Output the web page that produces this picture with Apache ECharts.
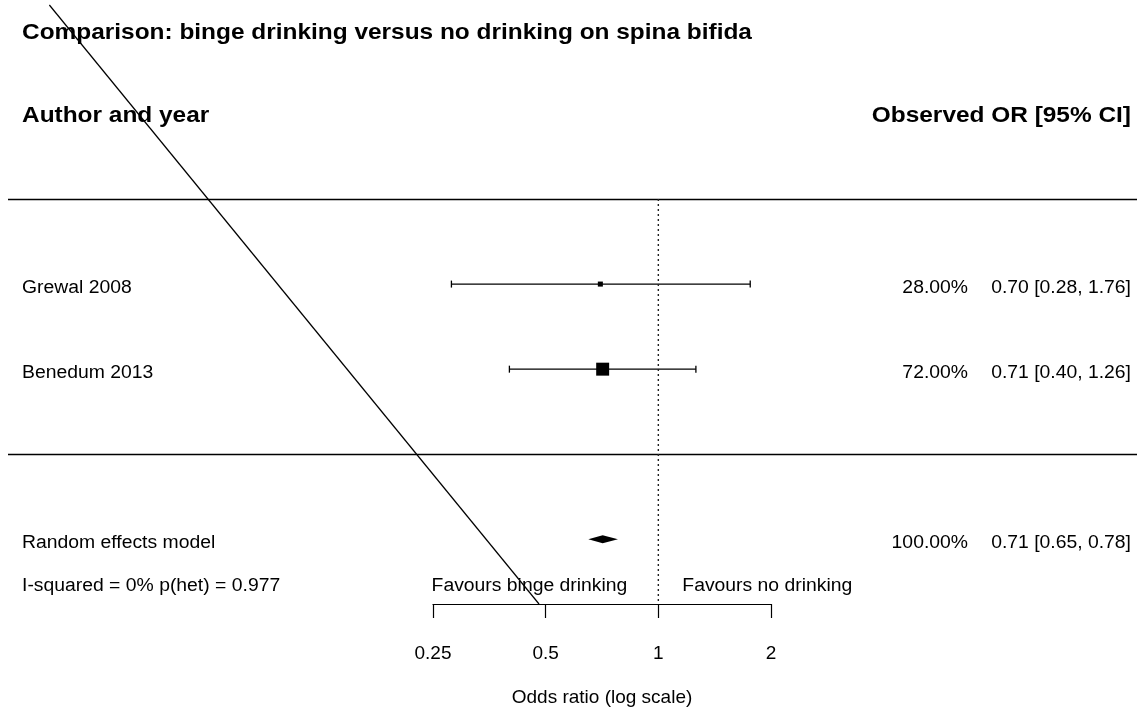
<!DOCTYPE html>
<html><head><meta charset="utf-8">
<script src="https://cdn.jsdelivr.net/npm/echarts@6/dist/echarts.min.js"></script>
<style>html,body{margin:0;padding:0;background:#fff}#c{width:1137px;height:708px}</style>
</head><body><div id="c"></div>
<script>
// ---- data ----
const titleText = 'Comparison: binge drinking versus no drinking on spina bifida';
const headerLeft = 'Author and year';
const headerRight = 'Observed OR [95% CI]';
const studies = ['Grewal 2008', 'Benedum 2013'];
const studyRows = [2, 1];
const studyEst = [0.70, 0.71];
const studyLo = [0.28, 0.40];
const studyHi = [1.76, 1.26];
const studyWeight = [28.00, 72.00];
const summaryLabel = 'Random effects model';
const summaryRow = -1;
const summaryCI = [0.71, 0.65, 0.78];   // est, lo, hi
const summaryWeight = 100.00;
const hetText = 'I-squared = 0% p(het) = 0.977';
const hetRow = -1.5;
const headerRow = 4;
const separatorRows = [3, 0];
const refValue = 1;
const favourLabels = ['Favours binge drinking', 'Favours no drinking'];
const xTicks = [0.25, 0.5, 1, 2];
const axisTitle = 'Odds ratio (log scale)';
const yRange = [-1.76, 5.28];
const diagonal = [[0.0236, 5.28], [0.480, -1.76]];

// ---- chart ----
const FONT = '"Liberation Sans", Arial, Helvetica, sans-serif';
const chart = echarts.init(document.getElementById('c'), null, {renderer: 'canvas'});

const ciData = studies.map((s, i) => [studyLo[i], studyHi[i], studyEst[i], studyRows[i]]);
const ptData = studies.map((s, i) => ({value: [studyEst[i], studyRows[i]], symbolSize: studyWeight[i] * 0.18}));

chart.setOption({
  animation: false,
  backgroundColor: '#fff',
  grid: {left: 433, right: 366, top: 5, bottom: 104, containLabel: false, outerBoundsMode: 'none'},
  xAxis: {
    type: 'log', logBase: 2, min: xTicks[0], max: xTicks[xTicks.length - 1],
    axisLine: {show: true, onZero: false, lineStyle: {color: '#000', width: 1.2}},
    axisTick: {show: true, length: 14, lineStyle: {color: '#000', width: 1.2}},
    axisLabel: {show: true, color: '#000', fontSize: 19, fontFamily: FONT, margin: 40,
      formatter: v => String(+v.toPrecision(6))},
    splitLine: {show: false},
    name: axisTitle, nameLocation: 'middle', nameGap: 84,
    nameTextStyle: {color: '#000', fontSize: 19, fontFamily: FONT}
  },
  yAxis: {type: 'value', min: yRange[0], max: yRange[1], show: false},
  series: [
    {
      type: 'custom', data: [diagonal[0].concat(diagonal[1])], clip: false, silent: true,
      encode: {x: [0, 2], y: [1, 3]},
      renderItem: (params, api) => {
        const a = api.coord([api.value(0), api.value(1)]);
        const b = api.coord([api.value(2), api.value(3)]);
        return {type: 'line', shape: {x1: a[0], y1: a[1], x2: b[0], y2: b[1]}, style: {stroke: '#000', lineWidth: 1.2}};
      }
    },
    {
      type: 'line', data: [[refValue, separatorRows[0]], [refValue, yRange[0]]], symbol: 'none', clip: false,
      lineStyle: {color: '#222', width: 1.4, type: [2, 3]}
    },
    {
      type: 'custom', data: ciData, clip: false,
      encode: {x: [0, 1, 2], y: 3},
      renderItem: (params, api) => {
        const a = api.coord([api.value(0), api.value(3)]);
        const b = api.coord([api.value(1), api.value(3)]);
        const h = 3.5;
        const st = {stroke: '#000', lineWidth: 1.3};
        return {type: 'group', children: [
          {type: 'line', shape: {x1: a[0], y1: a[1], x2: b[0], y2: b[1]}, style: st},
          {type: 'line', shape: {x1: a[0], y1: a[1] - h, x2: a[0], y2: a[1] + h}, style: st},
          {type: 'line', shape: {x1: b[0], y1: b[1] - h, x2: b[0], y2: b[1] + h}, style: st}
        ]};
      }
    },
    {
      type: 'scatter', data: ptData, symbol: 'rect',
      itemStyle: {color: '#000', opacity: 1}
    },
    {
      type: 'custom', data: [[summaryCI[1], summaryCI[2], summaryCI[0], summaryRow]], clip: false,
      encode: {x: [0, 1, 2], y: 3},
      renderItem: (params, api) => {
        const l = api.coord([api.value(0), api.value(3)]);
        const r = api.coord([api.value(1), api.value(3)]);
        const m = api.coord([api.value(2), api.value(3)]);
        const h = 4;
        return {type: 'polygon', shape: {points: [[l[0], l[1]], [m[0], m[1] - h], [r[0], r[1]], [m[0], m[1] + h]]},
          style: {fill: '#000'}};
      }
    }
  ]
});

// ---- texts and separators positioned from the y scale ----
const py = r => chart.convertToPixel({yAxisIndex: 0}, r);
const px = v => chart.convertToPixel({xAxisIndex: 0}, v);
function txt(x, y, s, align, bold, size, sx) {
  return {type: 'text', x: x, y: y, scaleX: sx, silent: true,
    style: {text: s, fill: '#000', fontFamily: FONT, fontSize: size, fontWeight: bold ? 'bold' : 'normal',
      textAlign: align, textVerticalAlign: 'middle'}};
}
const fmt = v => v.toFixed(2);
const BODY = 18, BSX = 1.075, HEAD = 22, HSX = 1.11;
const leftX = 22, pctX = 968, ciX = 1131;
const BOFF = 4, HOFF = 2;
const g = [];
g.push(txt(leftX, 33, titleText, 'left', true, HEAD, HSX));
g.push(txt(leftX, py(headerRow) + HOFF, headerLeft, 'left', true, HEAD, HSX));
g.push(txt(ciX, py(headerRow) + HOFF, headerRight, 'right', true, HEAD, HSX));
studies.forEach((s, i) => {
  const y = py(studyRows[i]) + BOFF;
  g.push(txt(leftX, y, s, 'left', false, BODY, BSX));
  g.push(txt(pctX, y, fmt(studyWeight[i]) + '%', 'right', false, BODY, BSX));
  g.push(txt(ciX, y, fmt(studyEst[i]) + ' [' + fmt(studyLo[i]) + ', ' + fmt(studyHi[i]) + ']', 'right', false, BODY, BSX));
});
const ys = py(summaryRow) + BOFF;
g.push(txt(leftX, ys, summaryLabel, 'left', false, BODY, BSX));
g.push(txt(pctX, ys, fmt(summaryWeight) + '%', 'right', false, BODY, BSX));
g.push(txt(ciX, ys, fmt(summaryCI[0]) + ' [' + fmt(summaryCI[1]) + ', ' + fmt(summaryCI[2]) + ']', 'right', false, BODY, BSX));
const yh = py(hetRow) + BOFF;
g.push(txt(leftX, yh, hetText, 'left', false, BODY, BSX));
const xr = px(refValue);
g.push(txt(xr - 31, yh, favourLabels[0], 'right', false, BODY, BSX));
g.push(txt(xr + 24, yh, favourLabels[1], 'left', false, BODY, BSX));
separatorRows.forEach(r => {
  const y = Math.round(py(r)) + 0.5;
  g.push({type: 'line', silent: true, shape: {x1: 8, y1: y, x2: 1137, y2: y}, style: {stroke: '#000', lineWidth: 1.4}});
});
chart.setOption({graphic: g});
</script></body></html>
